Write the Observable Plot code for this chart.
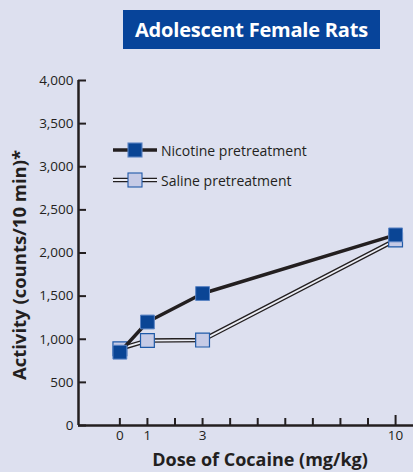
<!DOCTYPE html>
<html><head><meta charset="utf-8">
<script src="https://cdn.jsdelivr.net/npm/d3@7"></script>
<script src="https://cdn.jsdelivr.net/npm/@observablehq/plot@0.6"></script>
<style>
html,body{margin:0;padding:0;background:#dde0ef;}
#page{position:relative;width:413px;height:472px;background:#dde0ef;font-family:"Open Sans",sans-serif;color:#231f20;overflow:hidden;}
#title{position:absolute;left:123px;top:10px;width:257px;height:39px;background:#07449a;color:#fff;font-weight:bold;font-size:20px;line-height:39px;text-align:center;letter-spacing:-0.2px;}
#chart{position:absolute;left:0;top:60px;}
#legend{position:absolute;left:110px;top:135px;font-size:14px;}
.li{display:flex;align-items:center;height:30px;}
.li span{margin-left:1px;}
</style></head>
<body><div id="page"><div id="title">Adolescent Female Rats</div><div id="chart"></div><div id="legend"></div></div>
<script>
const doses = [0, 1, 3, 10];
const nicotine = [850, 1200, 1530, 2210];
const saline = [890, 985, 990, 2150];
const xTicks = [0,1,2,3,4,5,6,7,8,9,10];
const xLabels = [0, 1, 3, 10];
const yTicks = [0,500,1000,1500,2000,2500,3000,3500,4000];
const seriesNames = ["Nicotine pretreatment", "Saline pretreatment"];

const nic = doses.map((d,i)=>({dose:d, v:nicotine[i]}));
const sal = doses.map((d,i)=>({dose:d, v:saline[i]}));
const ink = "#231f20";

const plot = Plot.plot({
  width: 413, height: 412,
  marginLeft: 78, marginRight: 0, marginTop: 20, marginBottom: 47,
  style: {background: "transparent", fontFamily: "Open Sans, sans-serif", color: ink},
  x: {domain: [-1.5, 10.65]},
  y: {domain: [0, 4000]},
  marks: [
    Plot.axisY({ticks: yTicks, tickSize: -8, tickPadding: 13, tickFormat: d3.format(","), fontSize: 13.5, stroke: ink, strokeWidth: 2, label: null}),
    Plot.axisX({ticks: xTicks.filter(d=>d!==10), tickSize: -7, tickPadding: 12, tickFormat: d => xLabels.includes(d) ? String(d) : "", fontSize: 13.5, stroke: ink, strokeWidth: 2, label: null}),
    Plot.axisX({ticks: [10], tickSize: -10, tickPadding: 15, tickFormat: d => String(d), fontSize: 13.5, stroke: ink, strokeWidth: 2, label: null}),
    Plot.ruleX([-1.5], {y1: 0, y2: 4000, stroke: ink, strokeWidth: 2.5}),
    Plot.ruleY([0], {stroke: ink, strokeWidth: 2.5}),
    Plot.line(sal, {x: "dose", y: "v", stroke: ink, strokeWidth: 4.5}),
    Plot.line(sal, {x: "dose", y: "v", stroke: "#eceef5", strokeWidth: 1.8}),
    Plot.dot(sal, {x: "dose", y: "v", symbol: "square", r: 7.8, fill: "#c6cbe6", stroke: "#1f5aa8", strokeWidth: 1.2}),
    Plot.line(nic, {x: "dose", y: "v", stroke: ink, strokeWidth: 3.5}),
    Plot.dot(nic, {x: "dose", y: "v", symbol: "square", r: 7.8, fill: "#0a4595", stroke: "#5b84c4", strokeWidth: 1}),
    Plot.text(["Activity (counts/10 min)*"], {frameAnchor: "left", textAnchor: "middle", rotate: -90, dx: -58, dy: 12, fontSize: 18.5, fontWeight: "bold", fill: ink}),
    Plot.text(["Dose of Cocaine (mg/kg)"], {frameAnchor: "bottom", textAnchor: "middle", lineAnchor: "bottom", dx: 14, dy: 40, fontSize: 18, fontWeight: "bold", fill: ink})
  ]
});
document.getElementById("chart").appendChild(plot);

const leg = document.getElementById("legend");
const styles = [
  {line: `<line x1="3" x2="47" y1="12" y2="12" stroke="${ink}" stroke-width="3.5"/>`, fill:"#0a4595", stroke:"#5b84c4"},
  {line: `<line x1="3" x2="47" y1="12" y2="12" stroke="${ink}" stroke-width="4.5"/><line x1="3" x2="47" y1="12" y2="12" stroke="#eceef5" stroke-width="1.8"/>`, fill:"#c6cbe6", stroke:"#1f5aa8"}
];
seriesNames.forEach((n,i)=>{
  const s = styles[i];
  const div = document.createElement("div");
  div.className = "li";
  div.innerHTML = `<svg width="50" height="24">${s.line}<rect x="18" y="5" width="14" height="14" fill="${s.fill}" stroke="${s.stroke}" stroke-width="1.1"/></svg><span>${n}</span>`;
  leg.appendChild(div);
});
</script></body></html>
